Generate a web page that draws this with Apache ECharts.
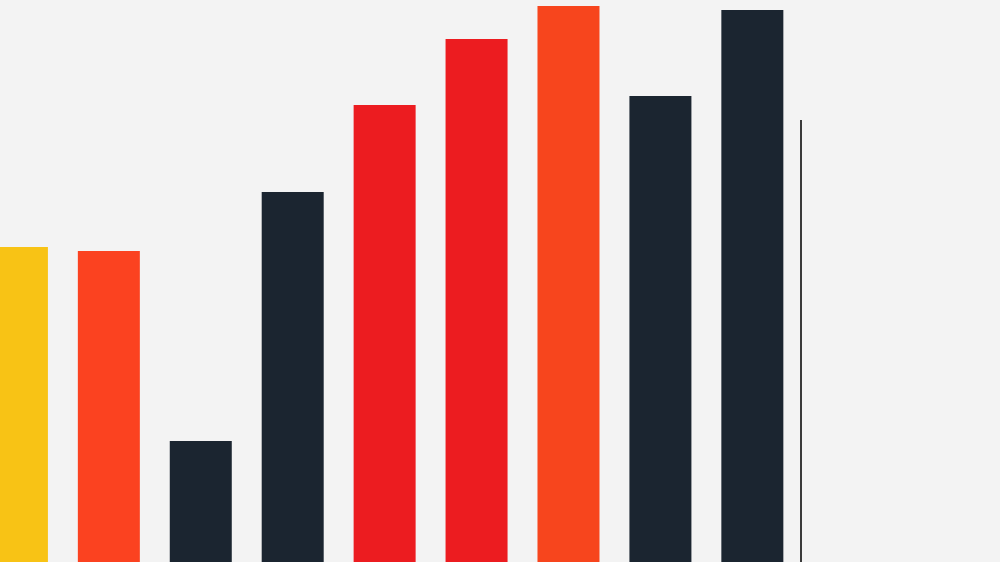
<!DOCTYPE html>
<html>
<head>
<meta charset="utf-8">
<script src="https://cdn.jsdelivr.net/npm/echarts@6/dist/echarts.min.js"></script>
<style>
html,body{margin:0;padding:0;background:#f3f3f3;}
#chart{width:1000px;height:562px;}
</style>
</head>
<body>
<div id="chart"></div>
<script>
// Data (arbitrary units)
const categories = ['A','B','C','D','E','F','G','H','I'];
const values = [315, 311, 121, 370, 457, 523, 556, 466, 552];
const barColors = ['#f8c315','#fb4220','#1b2530','#1b2530','#ec1c20','#ec1c20','#f7451d','#1b2530','#1b2530'];
const markerPosition = 8.53;   // thin reference line, in category-index units
const markerValue = 442;

const chart = echarts.init(document.getElementById('chart'), null, {renderer:'canvas'});
chart.setOption({
  backgroundColor: '#f3f3f3',
  animation: false,
  grid: {left: 0, right: 0, top: 0, bottom: 0},
  xAxis: {type: 'value', min: -0.184, max: 10.694, show: false},
  yAxis: {type: 'value', min: 0, max: 562, show: false},
  series: [{
    type: 'bar',
    barWidth: 62,
    data: values.map((v, i) => ({value: [i, v], name: categories[i], itemStyle: {color: barColors[i]}})),
    markLine: {
      silent: true,
      symbol: 'none',
      label: {show: false},
      lineStyle: {color: '#3a3a3a', width: 2, type: 'solid'},
      data: [[{coord: [markerPosition, markerValue]}, {coord: [markerPosition, 0]}]]
    }
  }]
});
</script>
</body>
</html>
